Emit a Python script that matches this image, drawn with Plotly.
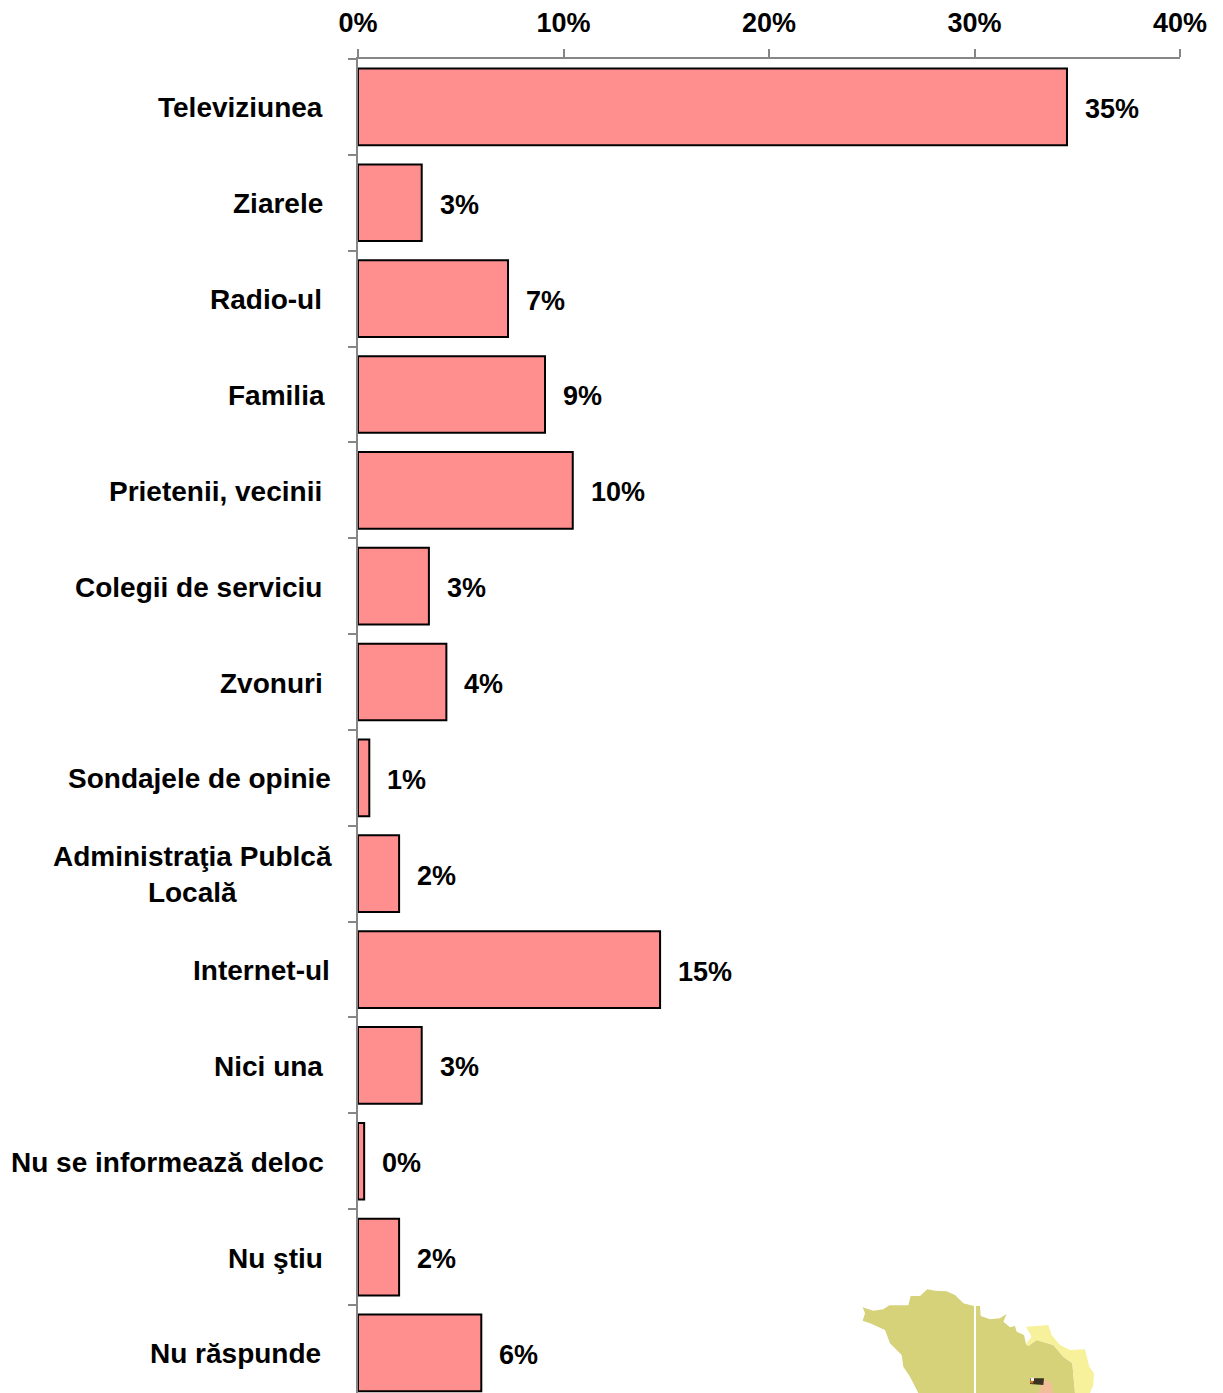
import plotly.graph_objects as go

categories = ["Televiziunea", "Ziarele", "Radio-ul", "Familia", "Prietenii, vecinii",
              "Colegii de serviciu", "Zvonuri", "Sondajele de opinie",
              "Administraţia Publcă<br>Locală", "Internet-ul", "Nici una",
              "Nu se informează deloc", "Nu ştiu", "Nu răspunde"]
values = [34.5, 3.1, 7.3, 9.1, 10.45, 3.45, 4.3, 0.55, 2.0, 14.7, 3.1, 0.3, 2.0, 6.0]
value_labels = ["35%", "3%", "7%", "9%", "10%", "3%", "4%", "1%", "2%", "15%", "3%", "0%", "2%", "6%"]
x_ticks = [0, 10, 20, 30, 40]
x_tick_labels = ["0%", "10%", "20%", "30%", "40%"]
label_right_edges = [323, 323, 322, 325, 322, 322, 323, 331, 332, 330, 323, 324, 323, 321]

W, H = 1223, 1393
L, R, T, B = 358, 43, 59, 0

map_olive_left = [(68,112),(100,122),(130,118),(148,106),(205,106),(212,78),(240,78),(262,58),(285,62),
                  (320,64),(345,75),(370,100),(402,108),(402,369),(235,369),(210,320),(190,290),(185,255),
                  (150,220),(135,180),(90,160),(68,152),(75,130)]
map_olive_right = [(408,108),(420,108),(422,138),(450,148),(480,145),(500,132),(490,155),(510,172),(525,168),
                   (530,185),(552,195),(558,222),(565,228),(590,210),(640,225),(670,260),(697,280),(705,369),(408,369)]
map_yellow = [(558,170),(625,165),(635,195),(660,225),(690,240),(735,238),(748,290),(762,310),(760,345),(750,369),
              (705,369),(697,280),(670,260),(640,225),(590,210),(565,228),(558,222),(575,200)]
map_peach = [(610,328),(635,340),(640,369),(595,369),(605,345)]
map_dark = [(570,325),(612,325),(610,345),(570,342)]
map_white = [(572,323),(582,323),(582,333),(572,333)]
map_orange = [(570,333),(580,333),(580,340),(570,340)]


def map_path(points):
    pts = []
    for zx, zy in points:
        px, py = 840 + zx / 3, 1270 + zy / 3
        pts.append(((px - L) / (W - L - R), (H - B - py) / (H - T - B)))
    return "M" + "L".join(f"{a:.5f},{b:.5f}" for a, b in pts) + "Z"


shapes = [dict(type="path", xref="paper", yref="paper", path=map_path(p), fillcolor=c, line=dict(width=0), layer="below")
          for p, c in [(map_olive_left, "#D6D27A"), (map_olive_right, "#D6D27A"), (map_yellow, "#F7F19C"),
                       (map_peach, "#F2BE9A"), (map_dark, "#3A3320"), (map_white, "#F4F0E0"), (map_orange, "#C8721E")]]

font_num = dict(family="Liberation Sans", size=27, color="#000000", weight=700)
font_cat = dict(family="Liberation Sans", size=28, color="#000000", weight=700)
annotations = []
for c, v, t, r in zip(categories, values, value_labels, label_right_edges):
    annotations.append(dict(x=0, y=c, xref="x", yref="y", text=c, showarrow=False, xanchor="right", align="center",
                            xshift=-(L - r) + 2, yshift=-1, font=font_cat))
    annotations.append(dict(x=v, y=c, xref="x", yref="y", text=t, showarrow=False, xanchor="left",
                            xshift=16, yshift=-2, font=font_num))

fig = go.Figure(go.Bar(y=categories, x=values, orientation="h", width=0.8,
                       marker=dict(color="#FF8F8F", line=dict(color="#000000", width=2)),
                       hoverinfo="skip"))
fig.update_layout(
    width=W, height=H, margin=dict(l=L, r=R, t=T, b=B, autoexpand=False),
    paper_bgcolor="white", plot_bgcolor="white", showlegend=False,
    shapes=shapes, annotations=annotations,
    xaxis=dict(side="top", range=[0, 40], tickmode="array", tickvals=x_ticks, ticktext=x_tick_labels,
               showgrid=False, zeroline=False, showline=True, linecolor="#868686", linewidth=2,
               ticks="outside", ticklen=8, tickwidth=2, tickcolor="#868686",
               tickfont=font_num, ticklabelstandoff=6),
    yaxis=dict(type="category", categoryorder="array", categoryarray=categories,
               range=[13.418, -0.5], showticklabels=False, tickson="boundaries",
               showgrid=False, zeroline=False, showline=True, linecolor="#868686", linewidth=2,
               ticks="outside", ticklen=8, tickwidth=2, tickcolor="#868686"),
)
fig.write_html("out.html", config={"displayModeBar": False}, post_script="document.body.style.margin='0';")
